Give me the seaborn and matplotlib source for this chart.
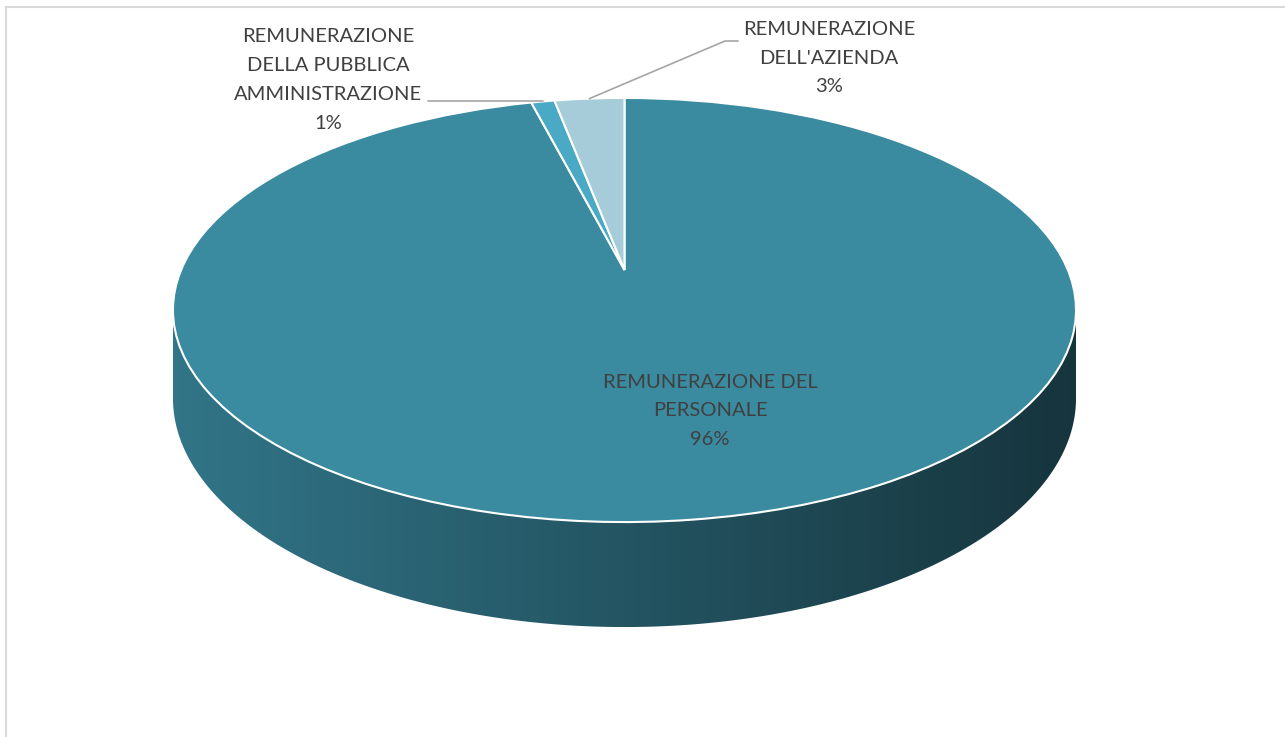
import numpy as np
import seaborn as sns
import matplotlib
matplotlib.use("Agg")
import matplotlib.pyplot as plt
from matplotlib.transforms import Transform
from matplotlib.path import Path
from matplotlib.patches import PathPatch
from matplotlib.colors import to_rgb

# data
labels = ["REMUNERAZIONE DEL\nPERSONALE",
          "REMUNERAZIONE\nDELLA PUBBLICA\nAMMINISTRAZIONE",
          "REMUNERAZIONE\nDELL'AZIENDA"]
values = [96, 1, 3]
colors = ["#3a8aa0", "#4aa9c4", "#a6cbd9"]

# layout of the tilted pie (pixels of the 1285x737 picture)
W, H = 1285, 737
R_PX = 443.4           # horizontal radius
CX, CY = 624.5, 270    # centre of the pie top
K = 0.1887             # perspective: back half looks smaller
SQUASH = 0.4612        # vertical / horizontal radius
DEPTH = 0.1921         # thickness of the disc
TEXT = "#404040"


class Tilt(Transform):
    """perspective view of a flat disc lying on the table"""
    input_dims = output_dims = 2

    def transform_non_affine(self, xy):
        xy = np.atleast_2d(np.asarray(xy, dtype=float))
        w = 1 + K * xy[:, 1]
        return np.column_stack([xy[:, 0] / w, SQUASH * xy[:, 1] / w])


def px(x, y):
    return (x - CX) / R_PX, (CY - y) / R_PX


sns.set_style("white")
plt.rcParams['font.family'] = ['Lato', 'DejaVu Sans']

fig = plt.figure(figsize=(W / 100, H / 100), dpi=100)
ax = fig.add_axes([0, 0, 1, 1])

wedges, _ = ax.pie(values, colors=colors, startangle=90, counterclock=False,
                   wedgeprops=dict(edgecolor="white", linewidth=1.5))
tilt = Tilt()
for w in wedges:
    w.set_transform(tilt + ax.transData)
    w.set_zorder(3)

# side of the disc, only the part that faces the viewer
s_lo = 180 + np.degrees(np.arcsin(K))
s_hi = 360 - np.degrees(np.arcsin(K))
umax = 1 / np.sqrt(1 - K ** 2)
for w, col in zip(wedges, colors):
    for shift in (-360, 0, 360):
        a = max(w.theta1, s_lo + shift)
        b = min(w.theta2, s_hi + shift)
        if b <= a:
            continue
        th = np.radians(np.linspace(a, b, 300))
        top = tilt.transform(np.column_stack([np.cos(th), np.sin(th)]))
        drop = DEPTH / (1 + K * np.sin(th))
        bot = top.copy()
        bot[:, 1] -= drop
        verts = np.vstack([top, bot[::-1], top[:1]])
        side = PathPatch(Path(verts, closed=True), transform=ax.transData,
                         facecolor="none", edgecolor="none")
        us = np.linspace(verts[:, 0].min(), verts[:, 0].max(), 400)
        fac = 0.85 + (0.38 - 0.85) * (us + umax) / (2 * umax)
        img = (np.array(to_rgb(col))[None, :] * fac[:, None])[None, :, :]
        im = ax.imshow(img, extent=(us[0], us[-1], verts[:, 1].min(), verts[:, 1].max()),
                       aspect="auto", origin="lower", interpolation="bilinear", zorder=1)
        im.set_clip_path(side)

# labels
pct = np.array(values) / np.sum(values) * 100
label_xy = [px(710, 411), px(328, 80), px(829, 58)]
for lab, p, xy in zip(labels, pct, label_xy):
    ax.text(xy[0], xy[1], f"{lab}\n{p:.0f}%", ha="center", va="center",
            fontsize=14.5, color=TEXT, linespacing=1.85, zorder=5)

# leader lines for the two small slices
mid = [np.radians((w.theta1 + w.theta2) / 2) for w in wedges]
anc = tilt.transform(np.column_stack([np.cos(mid), np.sin(mid)]))
ax.plot([anc[1, 0], px(428, 0)[0]], [anc[1, 1], anc[1, 1]],
        color="#a5a5a5", lw=1.2, zorder=4)
e1, e2 = px(725, 41), px(738, 41)
ax.plot([anc[2, 0], e1[0], e2[0]], [anc[2, 1], e1[1], e2[1]],
        color="#a5a5a5", lw=1.2, zorder=4)

ax.set_xlim(-CX / R_PX, (W - CX) / R_PX)
ax.set_ylim((CY - H) / R_PX, CY / R_PX)
ax.set_aspect("auto")
ax.set_axis_off()

# chart area border (top and left edge visible)
fig.add_artist(plt.Line2D([6 / W, 1], [1 - 7 / H] * 2, transform=fig.transFigure,
                          color="#d9d9d9", lw=1.5))
fig.add_artist(plt.Line2D([6 / W, 6 / W], [0, 1 - 7 / H], transform=fig.transFigure,
                          color="#d9d9d9", lw=1.5))

fig.savefig("out.png", dpi=100)
